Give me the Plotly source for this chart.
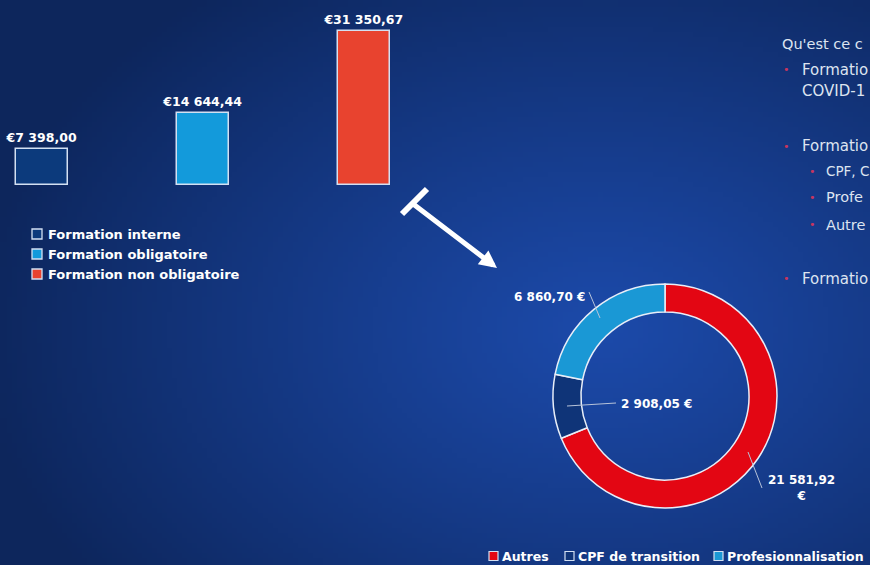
import base64, struct, zlib
import numpy as np
import plotly.graph_objects as go

# ---------------- data ----------------
bar_categories = ["Formation interne", "Formation obligatoire", "Formation non obligatoire"]
bar_values = [7398.00, 14644.44, 31350.67]
bar_colors = ["#0c3a7c", "#139adb", "#e8432f"]

pie_labels = ["Autres", "CPF de transition", "Profesionnalisation"]
pie_values = [21581.92, 2908.05, 6860.70]
pie_colors = ["#e30613", "#0f3478", "#1a98d5"]

side_title = "Qu'est ce c"
side_lines = ["Formatio", "COVID-1", "Formatio", "CPF, C", "Profe", "Autre", "Formatio"]

W, H = 870, 565
FONT = "DejaVu Sans"


def fr(v):
    return f"{v:,.2f}".replace(",", " ").replace(".", ",")


def px(x):
    return x / W


def py(y):
    return 1 - y / H


# ---------------- background gradient image ----------------
gw, gh = 174, 113
xs = (np.arange(gw) + 0.5) / gw
ys = (np.arange(gh) + 0.5) / gh
X, Y = np.meshgrid(xs, ys)
cx, cy = 600 / W, 330 / H
d = np.sqrt(((X - cx) / 0.72) ** 2 + ((Y - cy) / 0.78) ** 2)
t = np.clip(d, 0, 1) ** 1.1
c0 = np.array([28, 74, 170], float)
c1 = np.array([13, 38, 92], float)
img = (c0[None, None, :] * (1 - t[..., None]) + c1[None, None, :] * t[..., None]).astype(np.uint8)
raw = b"".join(b"\x00" + img[r].tobytes() for r in range(gh))


def chunk(tag, data):
    c = struct.pack(">I", len(data)) + tag + data
    return c + struct.pack(">I", zlib.crc32(tag + data) & 0xFFFFFFFF)


png = (b"\x89PNG\r\n\x1a\n" + chunk(b"IHDR", struct.pack(">IIBBBBB", gw, gh, 8, 2, 0, 0, 0))
       + chunk(b"IDAT", zlib.compress(raw, 9)) + chunk(b"IEND", b""))
bg_uri = "data:image/png;base64," + base64.b64encode(png).decode()

fig = go.Figure()

# ---------------- bars ----------------
fig.add_trace(go.Bar(
    x=[0, 1, 2], y=bar_values, width=0.323,
    marker=dict(color=bar_colors, line=dict(color="#d3e0f2", width=1.5)),
    text=["€" + fr(v) for v in bar_values], textposition="outside", constraintext="none",
    textfont=dict(family=FONT, size=12.5, color="white", weight="bold"),
    cliponaxis=False, hovertext=bar_categories, showlegend=False,
))

# ---------------- donut ----------------
fig.add_trace(go.Pie(
    labels=pie_labels, values=pie_values, sort=False, direction="clockwise", rotation=0,
    hole=0.75, marker=dict(colors=pie_colors, line=dict(color="#e8eef8", width=1.5)),
    textinfo="none", showlegend=False,
    domain=dict(x=[px(553), px(777)], y=[py(508), py(284)]),
))

ann = []
shapes = []

# pie labels + leader lines
ann.append(dict(x=px(587), y=py(297), text=fr(pie_values[2]) + " €", xanchor="right", yanchor="middle"))
shapes.append(dict(type="line", x0=px(589), y0=py(292), x1=px(600), y1=py(318)))
ann.append(dict(x=px(619), y=py(404), text=fr(pie_values[1]) + " €", xanchor="left", yanchor="middle"))
shapes.append(dict(type="line", x0=px(567), y0=py(406), x1=px(616), y1=py(403)))
ann.append(dict(x=px(801), y=py(488), text=fr(pie_values[0]) + "<br>€", xanchor="center", yanchor="middle"))
shapes.append(dict(type="line", x0=px(748), y0=py(452), x1=px(762), y1=py(488)))
for s in shapes:
    s.update(xref="paper", yref="paper", line=dict(color="#b7c3d9", width=1))
for a in ann:
    a.update(xref="paper", yref="paper", showarrow=False,
             font=dict(family=FONT, size=12, color="white", weight="bold"))

# left legend (bars)
for i, (lab, col) in enumerate(zip(bar_categories, bar_colors)):
    yc = 234 + 20 * i
    shapes.append(dict(type="rect", xref="paper", yref="paper", x0=px(32), x1=px(42),
                       y0=py(yc + 5), y1=py(yc - 5), fillcolor=col,
                       line=dict(color="#d3e0f2", width=1.3)))
    ann.append(dict(x=px(46), y=py(yc), text=lab, xref="paper", yref="paper", showarrow=False,
                    xanchor="left", yanchor="middle",
                    font=dict(family=FONT, size=13, color="white", weight="bold")))

# bottom legend (pie)
leg_x = [489, 565, 714]
for lab, col, x0 in zip(pie_labels, pie_colors, leg_x):
    yc = 556
    shapes.append(dict(type="rect", xref="paper", yref="paper", x0=px(x0), x1=px(x0 + 9),
                       y0=py(yc + 4.5), y1=py(yc - 4.5), fillcolor=col,
                       line=dict(color="#d3e0f2", width=1.2)))
    ann.append(dict(x=px(x0 + 11), y=py(yc), text=lab, xref="paper", yref="paper", showarrow=False,
                    xanchor="left", yanchor="middle",
                    font=dict(family=FONT, size=12.5, color="white", weight="bold")))

# arrow with T-bar
ann.append(dict(x=px(497), y=py(268), ax=-85, ay=-65, xref="paper", yref="paper", text="",
                showarrow=True, arrowhead=2, arrowsize=0.7, arrowwidth=5, arrowcolor="white"))
shapes.append(dict(type="line", xref="paper", yref="paper", x0=px(402), y0=py(214),
                   x1=px(427), y1=py(189), line=dict(color="white", width=6)))

# right-hand text block (as visible at the slide edge)
tcol = "#dde4f0"
bcol = "#c6355e"
side = [dict(x=px(780), y=py(44), text=side_title, xanchor="left",
             font=dict(family=FONT, size=14.5, color=tcol))]
items = [(800, 70, side_lines[0], 786, 15), (800, 91, side_lines[1], None, 15),
         (800, 146, side_lines[2], 786, 15), (824, 171, side_lines[3], 812, 13.5),
         (824, 197, side_lines[4], 812, 14.5), (824, 225, side_lines[5], 812, 14.5),
         (800, 279, side_lines[6], 786, 15)]
for x, y, txt, bx, fs in items:
    side.append(dict(x=px(x), y=py(y), text=txt, xanchor="left",
                     font=dict(family=FONT, size=fs, color=tcol)))
    if bx is not None:
        side.append(dict(x=px(bx), y=py(y), text="•", xanchor="center",
                         font=dict(family=FONT, size=11, color=bcol)))
for a in side:
    a.update(xref="paper", yref="paper", showarrow=False, yanchor="middle")
ann += side

fig.update_layout(
    width=W, height=H, margin=dict(l=0, r=0, t=0, b=0),
    paper_bgcolor="#0f2a63", plot_bgcolor="rgba(0,0,0,0)",
    xaxis=dict(domain=[0, 0.5], range=[-0.261, 2.441], visible=False, fixedrange=True),
    yaxis=dict(domain=[py(185), 1], range=[0, 185 * 203.6], visible=False, fixedrange=True),
    bargap=0, annotations=ann, shapes=shapes, showlegend=False,
    images=[dict(source=bg_uri, xref="paper", yref="paper", x=0, y=1, sizex=1, sizey=1,
                 sizing="stretch", layer="below", xanchor="left", yanchor="top")],
)

fig.write_html("out.html", config={"displayModeBar": False},
               post_script="document.body.style.margin='0';")
